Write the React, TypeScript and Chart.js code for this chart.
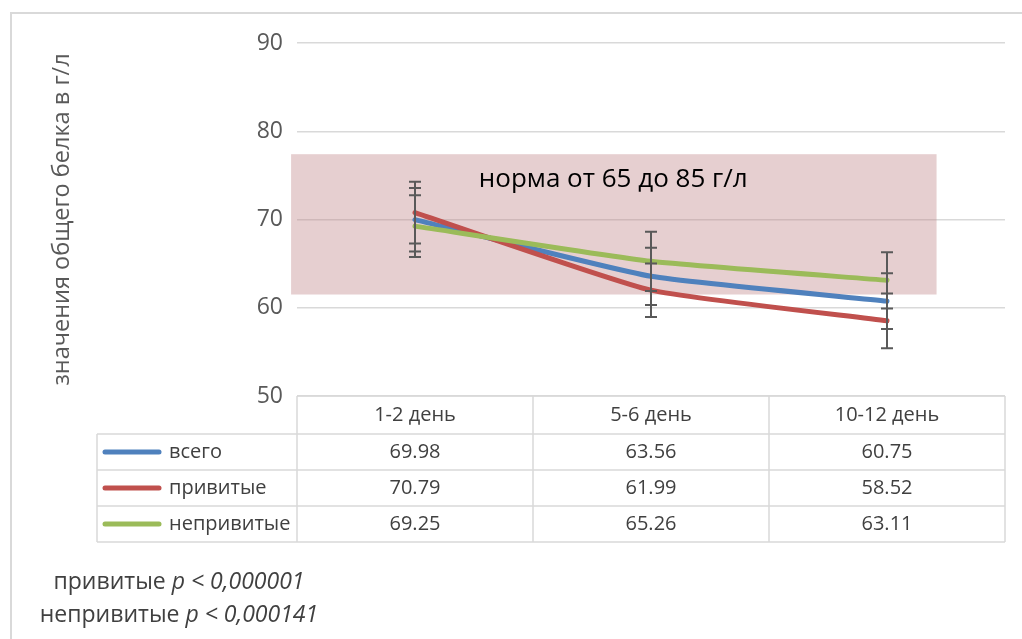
import React, { useEffect, useRef } from "react";
import { Chart, registerables } from "chart.js";

Chart.register(...registerables);

const categories = ["1-2 день", "5-6 день", "10-12 день"];
const seriesNames = ["всего", "привитые", "непривитые"];
const totalValues = [69.98, 63.56, 60.75];
const vaccinatedValues = [70.79, 61.99, 58.52];
const unvaccinatedValues = [69.25, 65.26, 63.11];
const totalErrors = [3.6, 3.24, 3.15];
const vaccinatedErrors = [3.5, 3.03, 3.1];
const unvaccinatedErrors = [3.5, 3.35, 3.19];
const yMin = 50;
const yMax = 90;
const yStep = 10;
const axisTitle = "значения общего белка в г/л";
const normLabel = "норма от 65 до 85 г/л";
const normBandY = [61.5, 77.4];
const normBandX = [-0.525, 2.21];
const normLabelPos = [0.84, 74.5];
const footnotes = [
  ["привитые ", "p < 0,000001"],
  ["непривитые ", "p < 0,000141"],
];

const seriesValues = [totalValues, vaccinatedValues, unvaccinatedValues];
const seriesErrors = [totalErrors, vaccinatedErrors, unvaccinatedErrors];
const colors = ["#4F81BD", "#C0504D", "#9BBB59"];
const FONT = "'Open Sans', sans-serif";

const tablePlugin = {
  id: "customDraw",
  beforeDraw(chart: any) {
    const ctx = chart.ctx;
    ctx.save();
    ctx.strokeStyle = "#D9D9D9";
    ctx.lineWidth = 2;
    ctx.beginPath();
    ctx.moveTo(11, chart.height);
    ctx.lineTo(11, 13);
    ctx.lineTo(chart.width, 13);
    ctx.stroke();
    ctx.restore();
  },
  beforeDatasetsDraw(chart: any) {
    const ctx = chart.ctx;
    const x = chart.scales.x;
    const y = chart.scales.y;
    const x0 = x.getPixelForValue(normBandX[0]);
    const x1 = x.getPixelForValue(normBandX[1]);
    const y0 = y.getPixelForValue(normBandY[1]);
    const y1 = y.getPixelForValue(normBandY[0]);
    ctx.save();
    ctx.fillStyle = "rgba(192,135,137,0.4)";
    ctx.fillRect(x0, y0, x1 - x0, y1 - y0);
    ctx.fillStyle = "#000";
    ctx.font = `26px ${FONT}`;
    ctx.textAlign = "center";
    ctx.textBaseline = "middle";
    ctx.fillText(normLabel, x.getPixelForValue(normLabelPos[0]), y.getPixelForValue(normLabelPos[1]));
    ctx.restore();
  },
  afterDatasetsDraw(chart: any) {
    const ctx = chart.ctx;
    const x = chart.scales.x;
    const y = chart.scales.y;
    ctx.save();
    ctx.strokeStyle = "#595959";
    ctx.lineWidth = 2;
    seriesValues.forEach((vals, s) => {
      vals.forEach((v, i) => {
        const e = seriesErrors[s][i];
        const px = x.getPixelForValue(i);
        const top = y.getPixelForValue(v + e);
        const bot = y.getPixelForValue(v - e);
        ctx.beginPath();
        ctx.moveTo(px, top);
        ctx.lineTo(px, bot);
        ctx.moveTo(px - 6, top);
        ctx.lineTo(px + 6, top);
        ctx.moveTo(px - 6, bot);
        ctx.lineTo(px + 6, bot);
        ctx.stroke();
      });
    });
    ctx.restore();
  },
  afterDraw(chart: any) {
    const ctx = chart.ctx;
    const x = chart.scales.x;
    const area = chart.chartArea;
    const colW = (x.right - x.left) / categories.length;
    const tableLeft = x.left - 200;
    const headerTop = area.bottom;
    const headerH = 38;
    const rowH = 36;
    const rowsTop = headerTop + headerH;
    const tableBottom = rowsTop + rowH * seriesNames.length;
    ctx.save();
    ctx.strokeStyle = "#D9D9D9";
    ctx.lineWidth = 1.5;
    ctx.beginPath();
    ctx.moveTo(x.left, headerTop);
    ctx.lineTo(x.right, headerTop);
    for (let r = 0; r <= seriesNames.length; r++) {
      const yy = rowsTop + r * rowH;
      ctx.moveTo(tableLeft, yy);
      ctx.lineTo(x.right, yy);
    }
    ctx.moveTo(tableLeft, rowsTop);
    ctx.lineTo(tableLeft, tableBottom);
    for (let c = 0; c <= categories.length; c++) {
      const xx = x.left + c * colW;
      ctx.moveTo(xx, headerTop);
      ctx.lineTo(xx, tableBottom);
    }
    ctx.stroke();

    ctx.fillStyle = "#404040";
    ctx.font = `20px ${FONT}`;
    ctx.textAlign = "center";
    ctx.textBaseline = "middle";
    categories.forEach((c, i) => {
      ctx.fillText(c, x.getPixelForValue(i), headerTop + headerH / 2);
    });
    seriesNames.forEach((name, s) => {
      const cy = rowsTop + s * rowH + rowH / 2;
      ctx.strokeStyle = colors[s];
      ctx.lineWidth = 5;
      ctx.lineCap = "round";
      ctx.beginPath();
      ctx.moveTo(tableLeft + 8, cy);
      ctx.lineTo(tableLeft + 62, cy);
      ctx.stroke();
      ctx.textAlign = "left";
      ctx.fillText(name, tableLeft + 72, cy);
      ctx.textAlign = "center";
      seriesValues[s].forEach((v, i) => {
        ctx.fillText(v.toFixed(2), x.getPixelForValue(i), cy);
      });
    });

    const cx = 179;
    footnotes.forEach((parts, k) => {
      const cy = 582 + k * 33;
      ctx.font = `23px ${FONT}`;
      const w1 = ctx.measureText(parts[0]).width;
      ctx.font = `italic 23px ${FONT}`;
      const w2 = ctx.measureText(parts[1]).width;
      const start = cx - (w1 + w2) / 2;
      ctx.textAlign = "left";
      ctx.font = `23px ${FONT}`;
      ctx.fillText(parts[0], start, cy);
      ctx.font = `italic 23px ${FONT}`;
      ctx.fillText(parts[1], start + w1, cy);
    });
    ctx.restore();
  },
};

export default function App() {
  const ref = useRef<HTMLCanvasElement>(null);
  useEffect(() => {
    if (!ref.current) return;
    const order = [2, 1, 0];
    const chart = new Chart(ref.current, {
      type: "line",
      data: {
        labels: categories,
        datasets: seriesNames.map((name, s) => ({
          label: name,
          data: seriesValues[s],
          borderColor: colors[s],
          backgroundColor: colors[s],
          borderWidth: 5,
          borderCapStyle: "round",
          borderJoinStyle: "round",
          pointRadius: 0,
          tension: 0.15,
          order: order[s],
        })),
      },
      options: {
        responsive: false,
        animation: false,
        layout: { padding: { top: 43, bottom: 243, right: 17, left: 0 } },
        plugins: { legend: { display: false }, tooltip: { enabled: false } },
        scales: {
          x: { display: false, offset: true },
          y: {
            min: yMin,
            max: yMax,
            ticks: { stepSize: yStep, padding: 14, color: "#595959", font: { family: FONT, size: 23 } },
            grid: { color: "#D9D9D9", lineWidth: 1.5, drawTicks: false },
            border: { display: false },
            title: {
              display: true,
              text: axisTitle,
              color: "#595959",
              font: { family: FONT, size: 23.5 },
              padding: { top: 48, bottom: 0 },
            },
            afterFit: (scale: any) => {
              scale.width = 297;
            },
          },
        },
      },
      plugins: [tablePlugin],
    });
    return () => chart.destroy();
  }, []);
  return (
    <div style={{ position: "fixed", left: 0, top: 0, width: 1022, height: 639, background: "#fff" }}>
      <canvas ref={ref} width={1022} height={639} style={{ display: "block" }} />
    </div>
  );
}
